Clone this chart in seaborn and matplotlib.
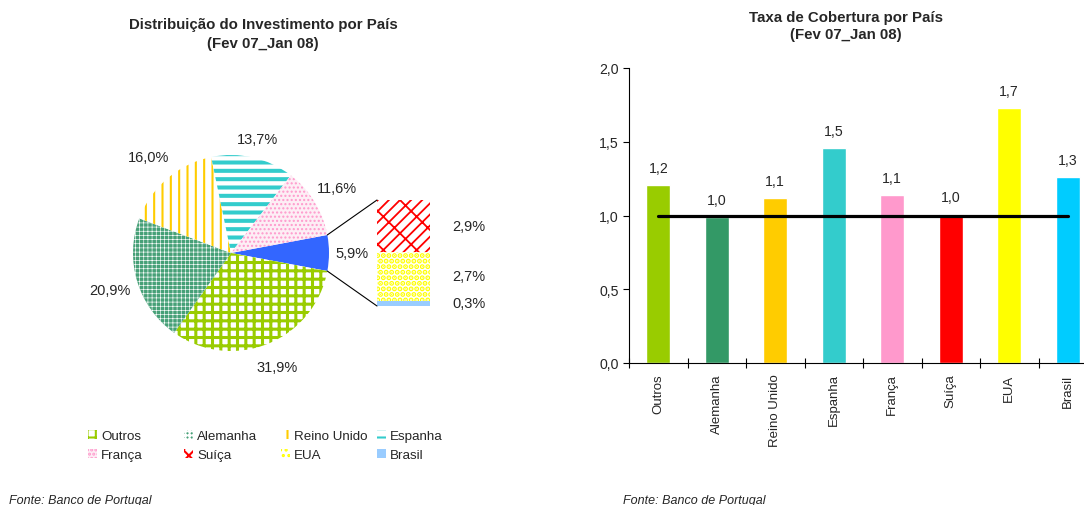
import numpy as np
import matplotlib
matplotlib.use("Agg")
import matplotlib.pyplot as plt
import matplotlib.patches as mpatches
from matplotlib.patches import ConnectionPatch
from matplotlib.ticker import FuncFormatter
import seaborn as sns

sns.set_theme(style="white")
plt.rcParams['font.family'] = ['Liberation Sans', 'DejaVu Sans']
plt.rcParams['hatch.linewidth'] = 1.5

# pie slices, clockwise starting with the blue (Suíça+EUA+Brasil) slice
pie_names = ['Suíça+EUA+Brasil', 'Outros', 'Alemanha', 'Reino Unido', 'Espanha', 'França']
pie_share = [5.9, 31.9, 20.9, 16.0, 13.7, 11.6]

# breakdown of the blue slice, bottom to top
detail_names = ['Brasil', 'EUA', 'Suíça']
detail_share = [0.3, 2.7, 2.9]

# coverage ratio per country
countries = ['Outros', 'Alemanha', 'Reino Unido', 'Espanha', 'França', 'Suíça', 'EUA', 'Brasil']
coverage = [1.21, 0.99, 1.12, 1.46, 1.14, 1.01, 1.73, 1.26]
reference_level = 1.0

bar_colors = ['#99CC00', '#339966', '#FFCC00', '#33CCCC', '#FF99CC', '#FF0000', '#FFFF00', '#00CCFF']

# face, hatch colour, hatch, hatch linewidth
styles = {
    'Outros': ('white', '#99CC00', '++', 2.2),
    'Alemanha': ('#46a077', '#ffffff', '++++', 0.45),
    'Reino Unido': ('white', '#FFCC00', '||', 1.5),
    'Espanha': ('white', '#33CCCC', '--', 2.9),
    'França': ('#fdeef5', '#FF99CC', '....', 1.0),
    'Suíça': ('white', '#FF0000', '///\\', 1.3),
    'EUA': ('white', '#FFFF00', '...', 2.6),
    'Brasil': ('#99CCFF', '#99CCFF', '', 1.0),
    'Suíça+EUA+Brasil': ('#3366FF', '#3366FF', '', 1.0),
}
label_dist = [1.23, 1.25, 1.29, 1.29, 1.19, 1.27]


def pct(v):
    return f"{v:.1f}%".replace('.', ',')


def style_patch(p, name):
    face, hc, hatch, hlw = styles[name]
    p.set_facecolor(face)
    p.set_edgecolor(hc)
    p.set_linewidth(0)
    p.set_hatch(hatch)
    if hasattr(p, 'set_hatch_linewidth'):
        p.set_hatch_linewidth(hlw)


W, H = 1084, 506
fig = plt.figure(figsize=(W / 100, H / 100), dpi=100)


def px_axes(x0, y0, w, h):
    return fig.add_axes([x0 / W, 1 - (y0 + h) / H, w / W, h / H])


# ---- pie ----
ax_pie = px_axes(231 - 120, 254 - 120, 240, 240)
wedges, _ = ax_pie.pie(pie_share, startangle=pie_share[0] / sum(pie_share) * 180,
                       counterclock=False, radius=0.98)
ax_pie.set_xlim(-1.2, 1.2)
ax_pie.set_ylim(-1.2, 1.2)
ax_pie.set_aspect('equal')
ax_pie.axis('off')
for w, name, v, d in zip(wedges, pie_names, pie_share, label_dist):
    style_patch(w, name)
    ang = np.deg2rad((w.theta1 + w.theta2) / 2)
    ax_pie.text(d * w.r * np.cos(ang), d * w.r * np.sin(ang), pct(v),
                ha='center', va='center', fontsize=10.5)

# ---- bar of pie ----
ax_sub = px_axes(377, 201, 53, 106)
bottoms = np.concatenate([[0], np.cumsum(detail_share)[:-1]])
for name, v, b in zip(detail_names, detail_share, bottoms):
    bar = ax_sub.bar(0, v, bottom=b, width=1)[0]
    style_patch(bar, name)
    ax_sub.annotate(pct(v), (0.5, b + v / 2), xytext=(16, 0), textcoords='offset points',
                    ha='left', va='center', fontsize=10.5, annotation_clip=False)
ax_sub.set_xlim(-0.5, 0.5)
ax_sub.set_ylim(0, sum(detail_share))
ax_sub.axis('off')

blue = wedges[0]
for theta, ytarget in [(blue.theta2, sum(detail_share)), (blue.theta1, 0)]:
    t = np.deg2rad(theta)
    con = ConnectionPatch(xyA=(blue.r * np.cos(t), blue.r * np.sin(t)), coordsA=ax_pie.transData,
                          xyB=(-0.5, ytarget), coordsB=ax_sub.transData, color='black', lw=0.8)
    fig.add_artist(con)

# legend, 4 columns x 2 rows
for i, x in enumerate([88, 184, 281, 377]):
    names = [countries[i], countries[i + 4]]
    handles = []
    for n in names:
        p = mpatches.Patch(label=n)
        style_patch(p, n)
        handles.append(p)
    fig.legend(handles=handles, loc='upper left', bbox_to_anchor=(x / W, 1 - 431 / H),
               frameon=False, borderpad=0, borderaxespad=0, handlelength=0.7, handleheight=0.7,
               handletextpad=0.3, labelspacing=0.5, fontsize=9.6)

fig.text(263 / W, 1 - 25 / H, 'Distribuição do Investimento por País', ha='center', va='center',
         fontsize=10.8, weight='bold')
fig.text(263 / W, 1 - 44 / H, '(Fev 07_Jan 08)', ha='center', va='center', fontsize=10.8, weight='bold')

# ---- bar chart ----
ax = fig.add_axes([629 / W, 1 - 364 / H, 468 / W, 295 / H])
sns.barplot(x=countries, y=coverage, hue=countries, palette=bar_colors, saturation=1,
            width=0.41, legend=False, ax=ax)
for c in ax.containers:
    ax.bar_label(c, fmt=lambda v: f"{v:.1f}".replace('.', ','), padding=7, fontsize=10.2)
ticks = ax.get_xticks()
ax.hlines(reference_level, ticks[0], ticks[-1], color='black', lw=2.3, zorder=3, capstyle='round')
ax.set_xlim(-0.5, 7.5)
ax.set_ylim(0, 2)
ax.set_yticks(np.arange(0, 2.01, 0.5))
ax.yaxis.set_major_formatter(FuncFormatter(lambda v, p: f"{v:.1f}".replace('.', ',')))
ax.set_xticks(np.arange(-0.5, 8, 1), minor=True)
ax.tick_params(axis='x', which='major', length=0, pad=7.5, labelsize=9.5, labelrotation=90)
ax.tick_params(axis='x', which='minor', bottom=True, direction='inout', length=7, width=0.8, color='black')
ax.tick_params(axis='y', left=True, direction='out', length=4, width=0.8, color='black', pad=3.5,
               labelsize=10.2)
ax.set_xlabel('')
ax.set_ylabel('')
sns.despine(ax=ax)
for s in ['left', 'bottom']:
    ax.spines[s].set_color('black')
    ax.spines[s].set_linewidth(0.8)

fig.text(846 / W, 1 - 18 / H, 'Taxa de Cobertura por País', ha='center', va='center',
         fontsize=10.8, weight='bold')
fig.text(846 / W, 1 - 35 / H, '(Fev 07_Jan 08)', ha='center', va='center', fontsize=10.8, weight='bold')

fig.text(9 / W, 1 - 495 / H, 'Fonte: Banco de Portugal', style='italic', fontsize=9, va='top')
fig.text(623 / W, 1 - 495 / H, 'Fonte: Banco de Portugal', style='italic', fontsize=9, va='top')

fig.savefig('out.png', dpi=100)
